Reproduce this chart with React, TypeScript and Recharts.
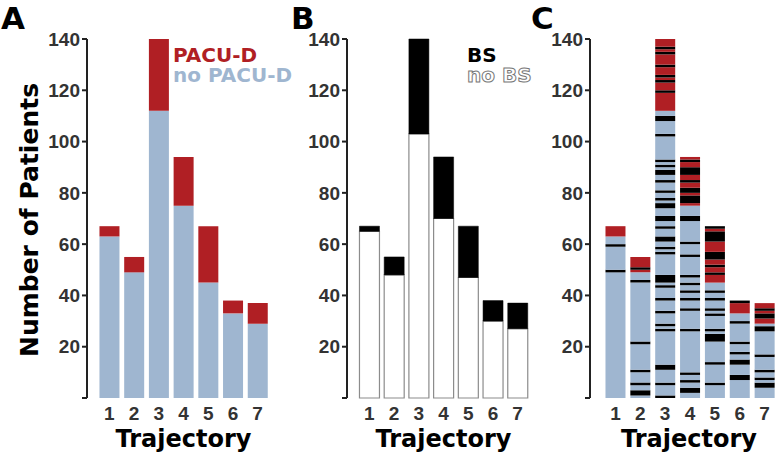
import React from 'react';
import { BarChart, Bar, XAxis, YAxis, Cell } from 'recharts';

const trajectories = ['1', '2', '3', '4', '5', '6', '7'];
const noPacuD = [63, 49, 112, 75, 45, 33, 29];
const pacuD = [4, 6, 28, 19, 22, 5, 8];

// rows (counted from the bottom of each bar) of patients with BS, panel C
const bsRows1 = [49, 59];
const bsRows2 = [1, 2, 5, 10, 21, 45, 50];
const bsRows3 = [0, 5, 11, 12, 26, 28, 33, 38, 43, 45, 46, 47, 56, 58, 61, 62, 66, 69, 70, 74, 75, 77, 80, 84, 87, 88, 90, 92, 102, 108, 109, 119, 123, 125, 129, 134, 136];
const bsRows4 = [2, 3, 6, 9, 26, 34, 38, 41, 44, 47, 55, 60, 69, 70, 76, 77, 78, 80, 81, 84, 87, 88, 89, 92];
const bsRows5 = [5, 13, 22, 23, 24, 26, 32, 34, 38, 41, 48, 51, 54, 55, 56, 61, 62, 63, 64, 66];
const bsRows6 = [7, 8, 13, 14, 17, 21, 29, 37];
const bsRows7 = [4, 5, 7, 10, 16, 26, 27, 31, 32, 34];

const yTicks = [0, 20, 40, 60, 80, 100, 120, 140];

const BLUE = '#9fb6d0';
const RED = '#b01f24';
const BLACK = '#000000';
const AXIS = '#222222';

const bsRows = [bsRows1, bsRows2, bsRows3, bsRows4, bsRows5, bsRows6, bsRows7];
const totals = noPacuD.map((v, i) => v + pacuD[i]);

const dataA = trajectories.map((t, i) => ({ traj: t, noPacuD: noPacuD[i], pacuD: pacuD[i] }));
const dataB = trajectories.map((t, i) => ({
  traj: t,
  noBS: totals[i] - bsRows[i].length,
  bs: bsRows[i].length,
}));

// panel C: one run per colour change, stacked bottom-up
const runs = trajectories.map((_, i) => {
  const out: { color: string; size: number }[] = [];
  for (let p = 0; p < totals[i]; p++) {
    const c = bsRows[i].includes(p) ? BLACK : p < noPacuD[i] ? BLUE : RED;
    const last = out[out.length - 1];
    if (last && last.color === c) last.size++;
    else out.push({ color: c, size: 1 });
  }
  return out;
});
const maxRuns = Math.max(...runs.map((r) => r.length));
const dataC = trajectories.map((t, i) => {
  const row: any = { traj: t };
  runs[i].forEach((r, k) => {
    row['s' + k] = r.size;
  });
  return row;
});

const tickFont = { fontFamily: 'Liberation Sans, Arial, sans-serif', fontSize: 19, fontWeight: 700, fill: '#333' };
const titleFont = 'DejaVu Sans, Verdana, sans-serif';

const CHART_H = 458;
const MARGIN = { top: 39, right: 5, bottom: 30, left: 27 };

const axes = (padLeft: number) => [
  <XAxis
    key="x"
    dataKey="traj"
    axisLine={false}
    tickLine={false}
    tick={tickFont}
    tickMargin={3}
    height={30}
    padding={{ left: padLeft, right: 0 }}
  />,
  <YAxis
    key="y"
    width={60}
    domain={[0, 140]}
    ticks={yTicks}
    interval={0}
    tickFormatter={(v: number) => (v === 0 ? '' : String(v))}
    tick={tickFont}
    tickSize={5}
    tickMargin={2}
    axisLine={{ stroke: AXIS, strokeWidth: 2 }}
    tickLine={{ stroke: AXIS, strokeWidth: 2 }}
  />,
];

const App = () => {
  return (
    <div style={{ position: 'fixed', left: 0, top: 0, width: 780, height: 458, background: '#fff' }}>
      <div style={{ position: 'absolute', left: 0, top: 0 }}>
        <BarChart width={275} height={CHART_H} data={dataA} margin={MARGIN} barCategoryGap="10%">
          {axes(10)}
          <Bar dataKey="noPacuD" stackId="a" fill={BLUE} isAnimationActive={false} />
          <Bar dataKey="pacuD" stackId="a" fill={RED} isAnimationActive={false} />
        </BarChart>
      </div>
      <div style={{ position: 'absolute', left: 260, top: 0 }}>
        <BarChart width={275} height={CHART_H} data={dataB} margin={MARGIN} barCategoryGap="10%">
          {axes(10)}
          <Bar dataKey="noBS" stackId="b" fill="#ffffff" stroke="#8c8c8c" strokeWidth={1.2} isAnimationActive={false} />
          <Bar dataKey="bs" stackId="b" fill={BLACK} stroke={BLACK} strokeWidth={0.5} isAnimationActive={false} />
        </BarChart>
      </div>
      <div style={{ position: 'absolute', left: 503, top: 0 }}>
        <BarChart width={277} height={CHART_H} data={dataC} margin={{ ...MARGIN, right: 3 }} barCategoryGap="10%">
          {axes(13)}
          {Array.from({ length: maxRuns }).map((_, k) => (
            <Bar key={k} dataKey={'s' + k} stackId="c" isAnimationActive={false}>
              {runs.map((r, i) => (
                <Cell key={i} fill={r[k] ? r[k].color : 'none'} />
              ))}
            </Bar>
          ))}
        </BarChart>
      </div>
      <svg width={780} height={458} style={{ position: 'absolute', left: 0, top: 0, pointerEvents: 'none' }}>
        <g fontFamily={titleFont} fontWeight={700}>
          <text x={1} y={29} fontSize={31} fill="#000">A</text>
          <text x={291} y={29} fontSize={31} fill="#000">B</text>
          <text x={531} y={29} fontSize={31} fill="#000">C</text>
          <text x={173} y={61.5} fontSize={20} fill={RED}>PACU-D</text>
          <text x={173} y={81.5} fontSize={20} fill={BLUE}>no PACU-D</text>
          <text x={467} y={61.5} fontSize={20} fill="#000">BS</text>
          <text x={467} y={81.5} fontSize={20} fill="#fff" stroke="#777" strokeWidth={1}>no BS</text>
          <text x={38} y={220} fontSize={25} fill="#000" textAnchor="middle" transform="rotate(-90, 38, 220)">
            Number of Patients
          </text>
          <text x={183.5} y={447} fontSize={24} fill="#000" textAnchor="middle">Trajectory</text>
          <text x={443.5} y={447} fontSize={24} fill="#000" textAnchor="middle">Trajectory</text>
          <text x={689} y={447} fontSize={24} fill="#000" textAnchor="middle">Trajectory</text>
        </g>
      </svg>
    </div>
  );
};

export default App;
